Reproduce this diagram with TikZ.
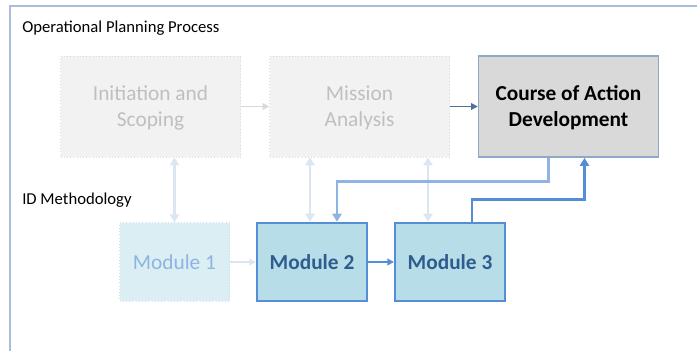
\documentclass[tikz,border=0pt]{standalone}
\usepackage{fontspec}
\setmainfont{Carlito}
\usepackage{tikz}
\usetikzlibrary{arrows.meta,positioning}
\definecolor{framec}{HTML}{A9BCD8}
\definecolor{phasefill}{HTML}{F2F2F2}
\definecolor{phaseline}{HTML}{D9D9D9}
\definecolor{phasetext}{HTML}{BFBFBF}
\definecolor{coafill}{HTML}{D9D9D9}
\definecolor{coaline}{HTML}{8EA9C8}
\definecolor{modfill}{HTML}{B7DEE8}
\definecolor{modline}{HTML}{558ED5}
\definecolor{modtext}{HTML}{2E5C8F}
\definecolor{fadefill}{HTML}{DBEEF4}
\definecolor{fadeline}{HTML}{C6E0EC}
\definecolor{fadetext}{HTML}{8DB4E2}
\definecolor{linklight}{HTML}{DCE6F2}
\definecolor{linkmid}{HTML}{8EB4E3}
\definecolor{linkdark}{HTML}{4F6FA0}

\begin{document}
\begin{tikzpicture}[x=0.75pt, y=-0.75pt, >={Triangle[length=5pt,width=5pt]},
	phase/.style = {draw=phaseline, dotted, fill=phasefill, text=phasetext, minimum width=135pt, minimum height=76pt, align=center, font=\fontsize{16}{19.5}\selectfont},
	coabox/.style = {draw=coaline, line width=1.1pt, fill=coafill, text=black, minimum width=135pt, minimum height=76pt, align=center, font=\fontsize{16}{19.5}\selectfont\bfseries},
	modfade/.style = {draw=fadeline, dotted, fill=fadefill, text=fadetext, minimum width=82.5pt, minimum height=59pt, font=\fontsize{16}{20}\selectfont},
	module/.style = {draw=modline, line width=1.5pt, fill=modfill, text=modtext, minimum width=82.5pt, minimum height=59pt, font=\fontsize{16}{20}\selectfont\bfseries},
	title/.style = {anchor=base west, inner sep=0pt, font=\fontsize{12.5}{15}\selectfont},
	bigtip/.style = {>={Triangle[length=6pt,width=7pt]}}]
	\useasboundingbox (0,0) rectangle (697,351);
	\draw[framec, line width=1.1pt] (10,351) -- (10,6) -- (697,6);
	\node[title] (opp) at (22,32) {Operational Planning Process};
	\node[title] (idm) at (22,204) {ID Methodology};
	% planning steps
	\node[phase] (init) at (150.5,106.5) {\strut Initiation and\\Scoping};
	\node[phase] (mission) at (359.5,106.5) {\strut Mission\\Analysis};
	\node[coabox] (coa) at (568.5,106.5) {\strut Course of Action\\Development};
	\draw[->, phaseline, line width=1.1pt] (init) -- (mission);
	\draw[->, linkdark, line width=1.1pt] (mission) -- (coa);
	% modules
	\node[modfade] (mod1) at (174.5,262) {Module 1};
	\node[module] (mod2) at (312,262) {Module 2};
	\node[module] (mod3) at (450,262) {Module 3};
	\draw[->, linklight, line width=1.5pt] (mod1) -- (mod2);
	\draw[->, modline, line width=1.5pt] (mod2) -- (mod3);
	% links between the rows
	\draw[<->, bigtip, linklight, line width=2.2pt] (mod1.north) -- (mod1.north |- init.south);
	\draw[<->, bigtip, linklight, line width=2.2pt] ([xshift=-1.5pt]mod2.north) -- ([xshift=-1.5pt]mod2.north |- mission.south);
	\draw[<->, bigtip, linklight, line width=2.2pt] ([xshift=-16.5pt]mod3.north) -- ([xshift=-16.5pt]mod3.north |- mission.south);
	\draw[->, bigtip, linkmid, line width=2.2pt] ([xshift=-15pt]coa.south) -- ++(0,24) -| ([xshift=18.75pt]mod2.north);
	\draw[->, bigtip, modline, line width=2.2pt] ([xshift=16.5pt]mod3.north) -- ++(0,-22) -| ([xshift=12pt]coa.south);
\end{tikzpicture}
\end{document}
